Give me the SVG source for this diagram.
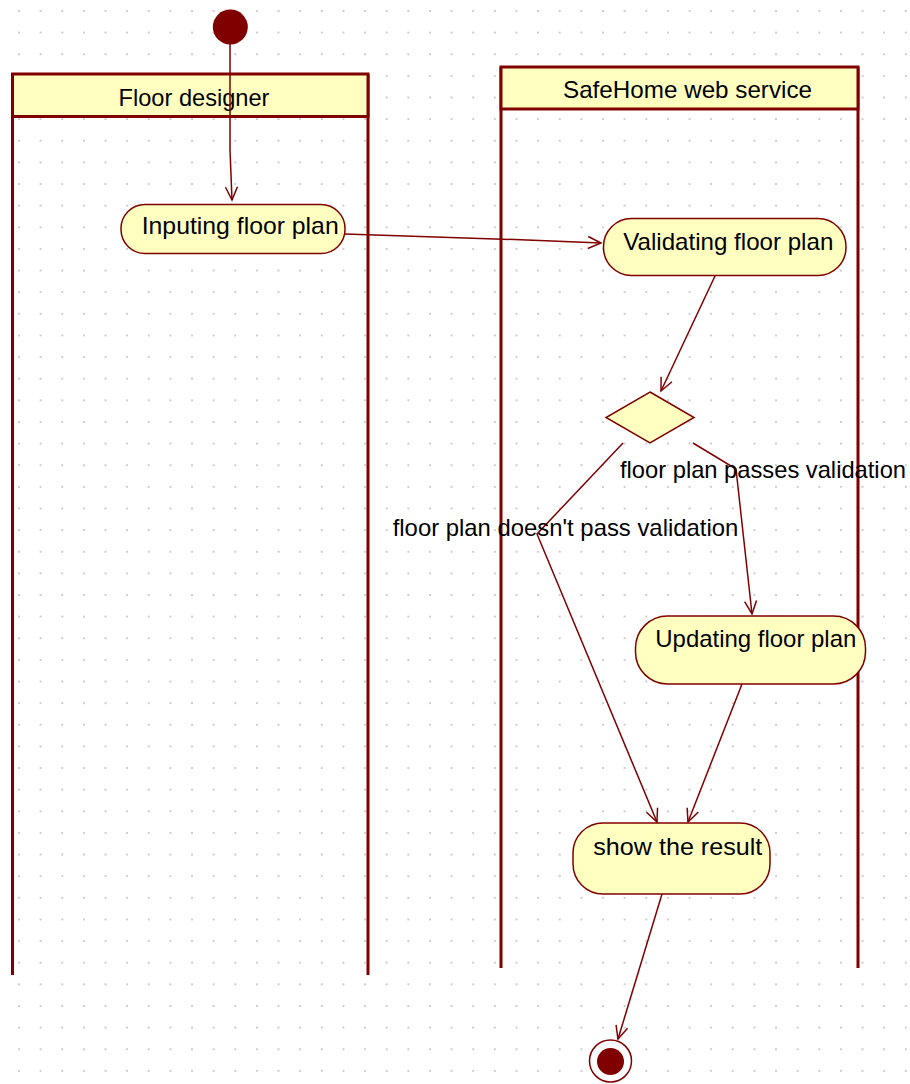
<svg xmlns="http://www.w3.org/2000/svg" width="910" height="1084" viewBox="0 0 910 1084">
  <style>
    .lane { fill: none; stroke: #800000; stroke-width: 3; }
    .lane-head { fill: #ffffc0; stroke: #800000; stroke-width: 3; }
    .act { fill: #ffffc0; stroke: #800000; stroke-width: 1.5; }
    .txt { font-family: "Liberation Sans", Arial, sans-serif; font-size: 24px; fill: #000; }
    .edge { fill: none; stroke: #800000; stroke-width: 1.5; marker-end: url(#open-arrow); }
  </style>
  <defs>
    <pattern id="grid" patternUnits="userSpaceOnUse" x="18" y="10" width="21.63" height="21.63">
      <circle cx="1" cy="1" r="1" fill="#bdbdbd"/>
    </pattern>
    <marker id="open-arrow" markerUnits="userSpaceOnUse" markerWidth="16" markerHeight="16" refX="0" refY="0" orient="auto" viewBox="-14 -8 16 16" overflow="visible">
      <path d="M-13,-6 L0,0 L-13,6" fill="none" stroke="#800000" stroke-width="1.5"/>
    </marker>
  </defs>

  <!-- background with dotted grid -->
  <rect width="910" height="1084" fill="#ffffff"/>
  <rect width="910" height="1084" fill="url(#grid)"/>

  <!-- swimlanes -->
  <g id="lane-floor-designer">
    <path class="lane" d="M12.5,74 V975 M368,74 V975"/>
    <rect class="lane-head" x="12.5" y="74" width="355.5" height="42.5"/>
    <text class="txt" x="118.5" y="106" textLength="151" lengthAdjust="spacingAndGlyphs">Floor designer</text>
  </g>
  <g id="lane-safehome">
    <path class="lane" d="M501,67 V968 M858,67 V968"/>
    <rect class="lane-head" x="501" y="67" width="357" height="42"/>
    <text class="txt" x="563" y="97.7" textLength="249" lengthAdjust="spacingAndGlyphs">SafeHome web service</text>
  </g>

  <!-- connectors -->
  <g id="connectors">
    <polyline class="edge" points="230,44 230,150 232,200"/>
    <polyline class="edge" points="345,234 527,240 601,243"/>
    <polyline class="edge" points="715,276 661,391"/>
    <polyline class="edge" points="693,443 736,469 752,614"/>
    <polyline class="edge" points="623,443 537,534 657,822"/>
    <polyline class="edge" points="742,684 688,822"/>
    <polyline class="edge" points="662,894 618,1039"/>
    <text class="txt" x="620" y="478.3" textLength="286" lengthAdjust="spacingAndGlyphs">floor plan passes validation</text>
    <text class="txt" x="392.7" y="535.7" textLength="345.6" lengthAdjust="spacingAndGlyphs">floor plan doesn't pass validation</text>
  </g>

  <!-- nodes -->
  <g id="start">
    <circle cx="230.3" cy="27" r="17.5" fill="#800000"/>
  </g>
  <g id="inputing-floor-plan">
    <rect class="act" x="121" y="204.5" width="224" height="49" rx="24" ry="24"/>
    <text class="txt" x="141.7" y="234.3" textLength="197" lengthAdjust="spacingAndGlyphs">Inputing floor plan</text>
  </g>
  <g id="validating-floor-plan">
    <rect class="act" x="603.5" y="218.5" width="242.5" height="57" rx="28" ry="28"/>
    <text class="txt" x="623.3" y="250" textLength="210" lengthAdjust="spacingAndGlyphs">Validating floor plan</text>
  </g>
  <g id="decision">
    <polygon class="act" points="650,392 694,417.5 650,443 606,417.5"/>
  </g>
  <g id="updating-floor-plan">
    <rect class="act" x="635.5" y="616" width="230" height="68" rx="32" ry="32"/>
    <text class="txt" x="655.3" y="646.7" textLength="201" lengthAdjust="spacingAndGlyphs">Updating floor plan</text>
  </g>
  <g id="show-the-result">
    <rect class="act" x="573" y="823" width="197" height="71" rx="30" ry="30"/>
    <text class="txt" x="593.3" y="855" textLength="169" lengthAdjust="spacingAndGlyphs">show the result</text>
  </g>
  <g id="end">
    <circle cx="610.5" cy="1061" r="21" fill="#ffffff" stroke="#800000" stroke-width="1.5"/>
    <circle cx="610.5" cy="1061.5" r="13.5" fill="#800000"/>
  </g>
</svg>
